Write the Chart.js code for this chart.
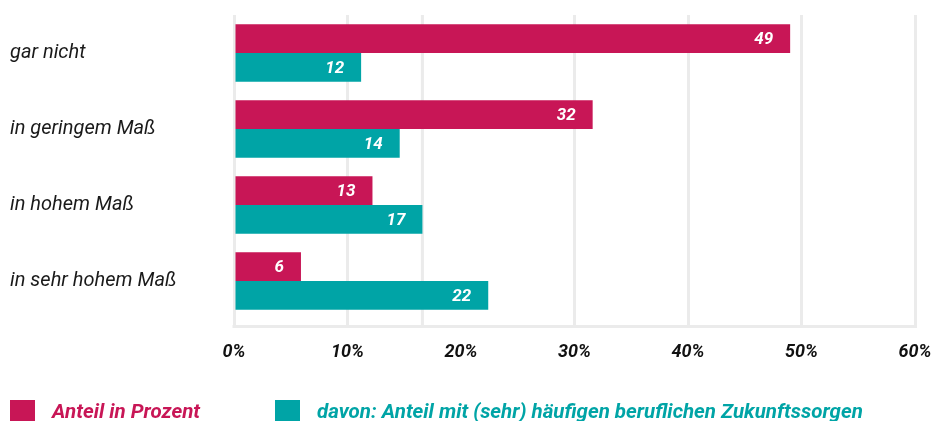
<!DOCTYPE html>
<html>
<head>
<meta charset="utf-8">
<script src="https://cdn.jsdelivr.net/npm/chart.js@4/dist/chart.umd.min.js"></script>
<style>
  html, body { margin: 0; padding: 0; background: #fff; }
  #wrap { position: relative; width: 934px; height: 421px; overflow: hidden; }
  .item { position: absolute; top: 399px; display: flex; align-items: center; white-space: nowrap;
    font-family: Roboto, sans-serif; font-weight: bold; font-style: italic; font-size: 20.5px; }
  .box { width: 25px; height: 22px; margin-right: 17px; }
</style>
</head>
<body>
<div id="wrap">
  <canvas id="chart" width="934" height="421"></canvas>
</div>
<script>
const categories = ['gar nicht', 'in geringem Maß', 'in hohem Maß', 'in sehr hohem Maß'];
const seriesNames = ['Anteil in Prozent', 'davon: Anteil mit (sehr) häufigen beruflichen Zukunftssorgen'];
const seriesColors = ['#c81656', '#00a4a6'];
// bar lengths as drawn, labels as printed in the picture
const shareValues = [49.0, 31.6, 12.2, 5.9];
const shareLabels = ['49', '32', '13', '6'];
const worryValues = [11.2, 14.6, 16.6, 22.4];
const worryLabels = ['12', '14', '17', '22'];
const xTicks = [0, 10, 20, 30, 40, 50, 60];
// the reference draws its 20% gridline at about 16.6 instead
const movedGridValue = 16.6;

const gridColor = '#ebebeb';
const tickLen = 9;

const barLabels = {
  id: 'barLabels',
  afterDatasetsDraw(chart) {
    const ctx = chart.ctx;
    const labels = [shareLabels, worryLabels];
    ctx.save();
    ctx.fillStyle = '#fff';
    ctx.font = 'italic bold 17px Roboto';
    ctx.textAlign = 'right';
    ctx.textBaseline = 'middle';
    chart.data.datasets.forEach((ds, i) => {
      chart.getDatasetMeta(i).data.forEach((bar, j) => {
        ctx.fillText(labels[i][j], bar.x - 17, bar.y + 1);
      });
    });
    ctx.restore();
  }
};

// extra gridline + bottom axis line drawn a tick length below the plot area
const gridExtras = {
  id: 'gridExtras',
  beforeDatasetsDraw(chart) {
    const ctx = chart.ctx;
    const area = chart.chartArea;
    const x = chart.scales.x.getPixelForValue(movedGridValue);
    ctx.save();
    ctx.strokeStyle = gridColor;
    ctx.lineWidth = 3;
    ctx.beginPath();
    ctx.moveTo(x, area.top);
    ctx.lineTo(x, area.bottom + tickLen);
    ctx.moveTo(area.left - 1.5, area.bottom + tickLen - 1.5);
    ctx.lineTo(area.right + 1.5, area.bottom + tickLen - 1.5);
    ctx.stroke();
    ctx.restore();
  }
};

new Chart(document.getElementById('chart'), {
  type: 'bar',
  data: {
    labels: categories,
    datasets: [
      { label: seriesNames[0], data: shareValues, backgroundColor: seriesColors[0] },
      { label: seriesNames[1], data: worryValues, backgroundColor: seriesColors[1] }
    ]
  },
  options: {
    indexAxis: 'y',
    responsive: false,
    animation: false,
    layout: { padding: { left: 10, right: 19, top: 13, bottom: 43 } },
    datasets: { bar: { barPercentage: 1, categoryPercentage: 0.758 } },
    plugins: { legend: { display: false }, tooltip: { enabled: false } },
    scales: {
      x: {
        min: 0, max: 60,
        afterBuildTicks(scale) { scale.ticks = xTicks.map(v => ({ value: v })); },
        afterFit(scale) {
          scale.height = 59;
          scale.paddingLeft = 0;
          scale.paddingRight = 0;
        },
        grid: {
          color: ctx => (ctx.tick && ctx.tick.value === 20) ? 'rgba(0,0,0,0)' : gridColor,
          lineWidth: 3, drawTicks: true, tickLength: tickLen
        },
        border: { display: false },
        ticks: {
          padding: 14, color: '#111',
          font: { family: 'Roboto', size: 18, weight: 'bold', style: 'italic' },
          callback: v => v + '%'
        }
      },
      y: {
        afterFit(scale) { scale.width = 224; },
        grid: { display: false },
        border: { display: false },
        ticks: {
          crossAlign: 'far', color: '#1a1a1a',
          font: { family: 'Roboto', size: 20, style: 'italic' }
        }
      }
    }
  },
  plugins: [gridExtras, barLabels]
});

const wrap = document.getElementById('wrap');
const legendLeft = [10, 275];
seriesNames.forEach((name, i) => {
  const item = document.createElement('div');
  item.className = 'item';
  item.style.left = legendLeft[i] + 'px';
  item.innerHTML = '<div class="box" style="background:' + seriesColors[i] + '"></div>' +
    '<span style="color:' + seriesColors[i] + '">' + name + '</span>';
  wrap.appendChild(item);
});
</script>
</body>
</html>
